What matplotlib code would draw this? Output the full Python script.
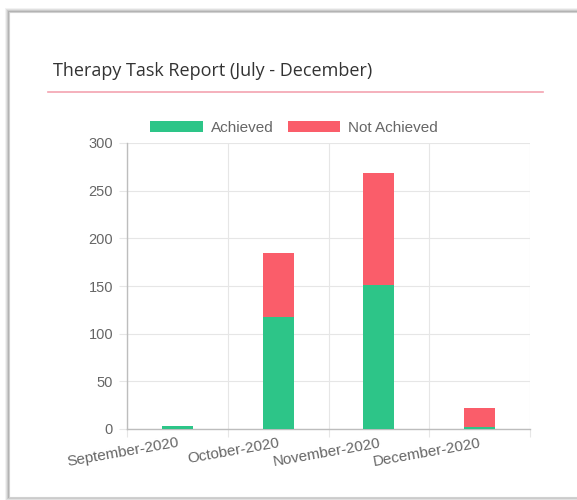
import numpy as np
import matplotlib.pyplot as plt
from matplotlib.patches import Rectangle
from matplotlib.lines import Line2D

months = ["September-2020", "October-2020", "November-2020", "December-2020"]
achieved = [3, 118, 151, 2]
not_achieved = [0, 67, 118, 20]

GREEN = "#2DC588"
RED = "#FA5D6A"
GRID = "#E6E6E6"
TXT = "#666666"

W, H = 577, 500
fig = plt.figure(figsize=(W / 100, H / 100), dpi=100)
fig.patch.set_facecolor("white")

# card with a soft shadow on the left/top
for i, a in enumerate([0.05, 0.07, 0.09, 0.12]):
    d = 4 - i
    fig.patches.append(Rectangle(((9 - d) / W, 0.006 - d / H), 1.2, (1 - 12 / H) - 0.006 + 2 * d / H,
                                 transform=fig.transFigure, facecolor="#000000", alpha=a,
                                 edgecolor="none", zorder=-3))
fig.patches.append(Rectangle((9 / W, 0.006), 1.2, (1 - 12 / H) - 0.006,
                             transform=fig.transFigure, facecolor="white",
                             edgecolor="#D0D0D0", linewidth=0.8, zorder=-2))

fig.text(53 / W, 1 - 71 / H, "Therapy Task Report (July - December)", fontsize=13,
         family="Open Sans", color="#333333", va="center", ha="left")
fig.add_artist(Line2D([48 / W, 543 / W], [1 - 92 / H] * 2, transform=fig.transFigure,
                      color="#F4A3B0", linewidth=1.2))

ax = fig.add_axes([127 / W, 1 - 429 / H, 403 / W, 286 / H])
ax.set_zorder(2)
ax.patch.set_alpha(0)
x = np.arange(len(months))
bw = 0.31
ax.bar(x, achieved, bw, color=GREEN, label="Achieved", zorder=3)
ax.bar(x, not_achieved, bw, bottom=achieved, color=RED, label="Not Achieved", zorder=3)

ax.set_xlim(-0.5, len(months) - 0.5)
ax.set_ylim(0, 300)
ax.set_yticks(np.arange(0, 301, 50))
ax.set_xticks(x)
ax.set_xticklabels(months, rotation=10, ha="right", rotation_mode="anchor",
                   family="Liberation Sans", fontsize=11, color=TXT)
ax.set_xticks(np.arange(-0.5, len(months), 1), minor=True)
ax.tick_params(axis="x", which="major", length=0, pad=5)
ax.tick_params(axis="x", which="minor", length=6, color=GRID, width=0.8)
ax.tick_params(axis="y", length=6, color=GRID, width=0.8, pad=4, labelcolor=TXT, labelsize=10.5)
for lab in ax.get_yticklabels():
    lab.set_family("Liberation Sans")

ax.grid(axis="y", color=GRID, linewidth=0.8, zorder=0)
ax.grid(axis="x", which="minor", color=GRID, linewidth=0.8, zorder=0)
for s in ["top", "right"]:
    ax.spines[s].set_visible(False)
for s in ["left", "bottom"]:
    ax.spines[s].set_color("#BDBDBD")
    ax.spines[s].set_linewidth(1.0)

leg = fig.legend(*ax.get_legend_handles_labels(), loc="center",
                 bbox_to_anchor=(294 / W, 1 - 127.5 / H), ncol=2, frameon=False,
                 handlelength=3.45, handleheight=0.72, columnspacing=0.95, handletextpad=0.5,
                 prop={"family": "Liberation Sans", "size": 11}, borderpad=0)
for t in leg.get_texts():
    t.set_color(TXT)

fig.savefig("out.png", dpi=100)
